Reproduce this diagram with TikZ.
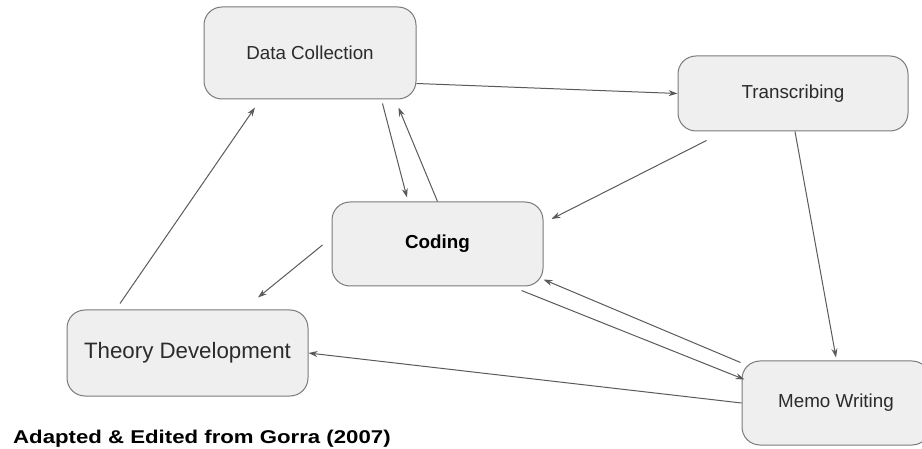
\documentclass[tikz,border=0pt]{standalone}
\usepackage{fontspec}
\setmainfont{Liberation Sans}
\newfontfamily\sourcefont[FakeStretch=1.2]{Liberation Sans}
\usepackage{tikz}
\usetikzlibrary{positioning}
\usetikzlibrary{arrows.meta}
\usepackage{xcolor}
\definecolor{boxfill}{HTML}{EFEFEF}
\definecolor{boxline}{HTML}{7A7A7A}
\definecolor{linkgray}{HTML}{5A5A5A}
\definecolor{labelgray}{HTML}{2B2B2B}

\begin{document}
\begin{tikzpicture}[x=1pt, y=-1pt,
    stage/.style={draw=boxline, line width=1pt, fill=boxfill, rounded corners=18pt,
        inner sep=0pt, text=labelgray, font=\fontsize{18.8}{22}\selectfont},
    link/.style={draw=linkgray, line width=1pt, -{Stealth[length=9pt,width=6pt]}}]
    \clip (0,0) rectangle (922,449);

    % Stages
    \node[stage, minimum width=212pt, minimum height=92pt] (dc) at (310,53) {Data Collection};
    \node[stage, minimum width=230pt, minimum height=75pt] (tr) at (793,93.5) {Transcribing};
    \node[stage, minimum width=211pt, minimum height=84pt, text=black, font=\fontsize{18.8}{22}\selectfont\bfseries] (cod) at (437.5,244) {Coding};
    \node[stage, minimum width=241pt, minimum height=86pt, font=\fontsize{22.3}{26}\selectfont] (th) at (187.5,353) {Theory Development};
    \node[stage, minimum width=188pt, minimum height=84pt] (mw) at (836,403) {Memo Writing};

    % Links
    \draw[link] ([yshift=16pt]dc.south east) -- (tr.west);
    \draw[link] ([xshift=29pt,yshift=-9pt]tr.south west) -- ([xshift=8pt,yshift=25pt]cod.east);
    \draw[link] ([xshift=2pt]tr.south) -- ([yshift=3pt]mw.north);
    \draw[link] ([xshift=-34pt,yshift=-4pt]dc.south east) -- ([xshift=-30.5pt,yshift=4pt]cod.north);
    \draw[link] (cod.north) -- ([xshift=-18pt,yshift=-8pt]dc.south east);
    \draw[link] ([xshift=-1pt,yshift=-2pt]mw.north west) -- ([yshift=7pt]cod.south east);
    \draw[link] ([xshift=-22pt,yshift=-4pt]cod.south east) -- ([xshift=3pt,yshift=-19pt]mw.north west);
    \draw[link] ([xshift=-9pt,yshift=-1pt]cod.west) -- ([xshift=70.5pt,yshift=12pt]th.north);
    \draw[link] (mw.west) -- (th.east);
    \draw[link] ([xshift=-67.5pt,yshift=6pt]th.north) -- ([xshift=-55pt,yshift=-8pt]dc.south);

    % Source
    \node[anchor=base west, inner sep=0pt, font=\sourcefont\bfseries\fontsize{18.5}{22}\selectfont] (src) at (13,443) {Adapted \& Edited from Gorra (2007)};
\end{tikzpicture}
\end{document}
